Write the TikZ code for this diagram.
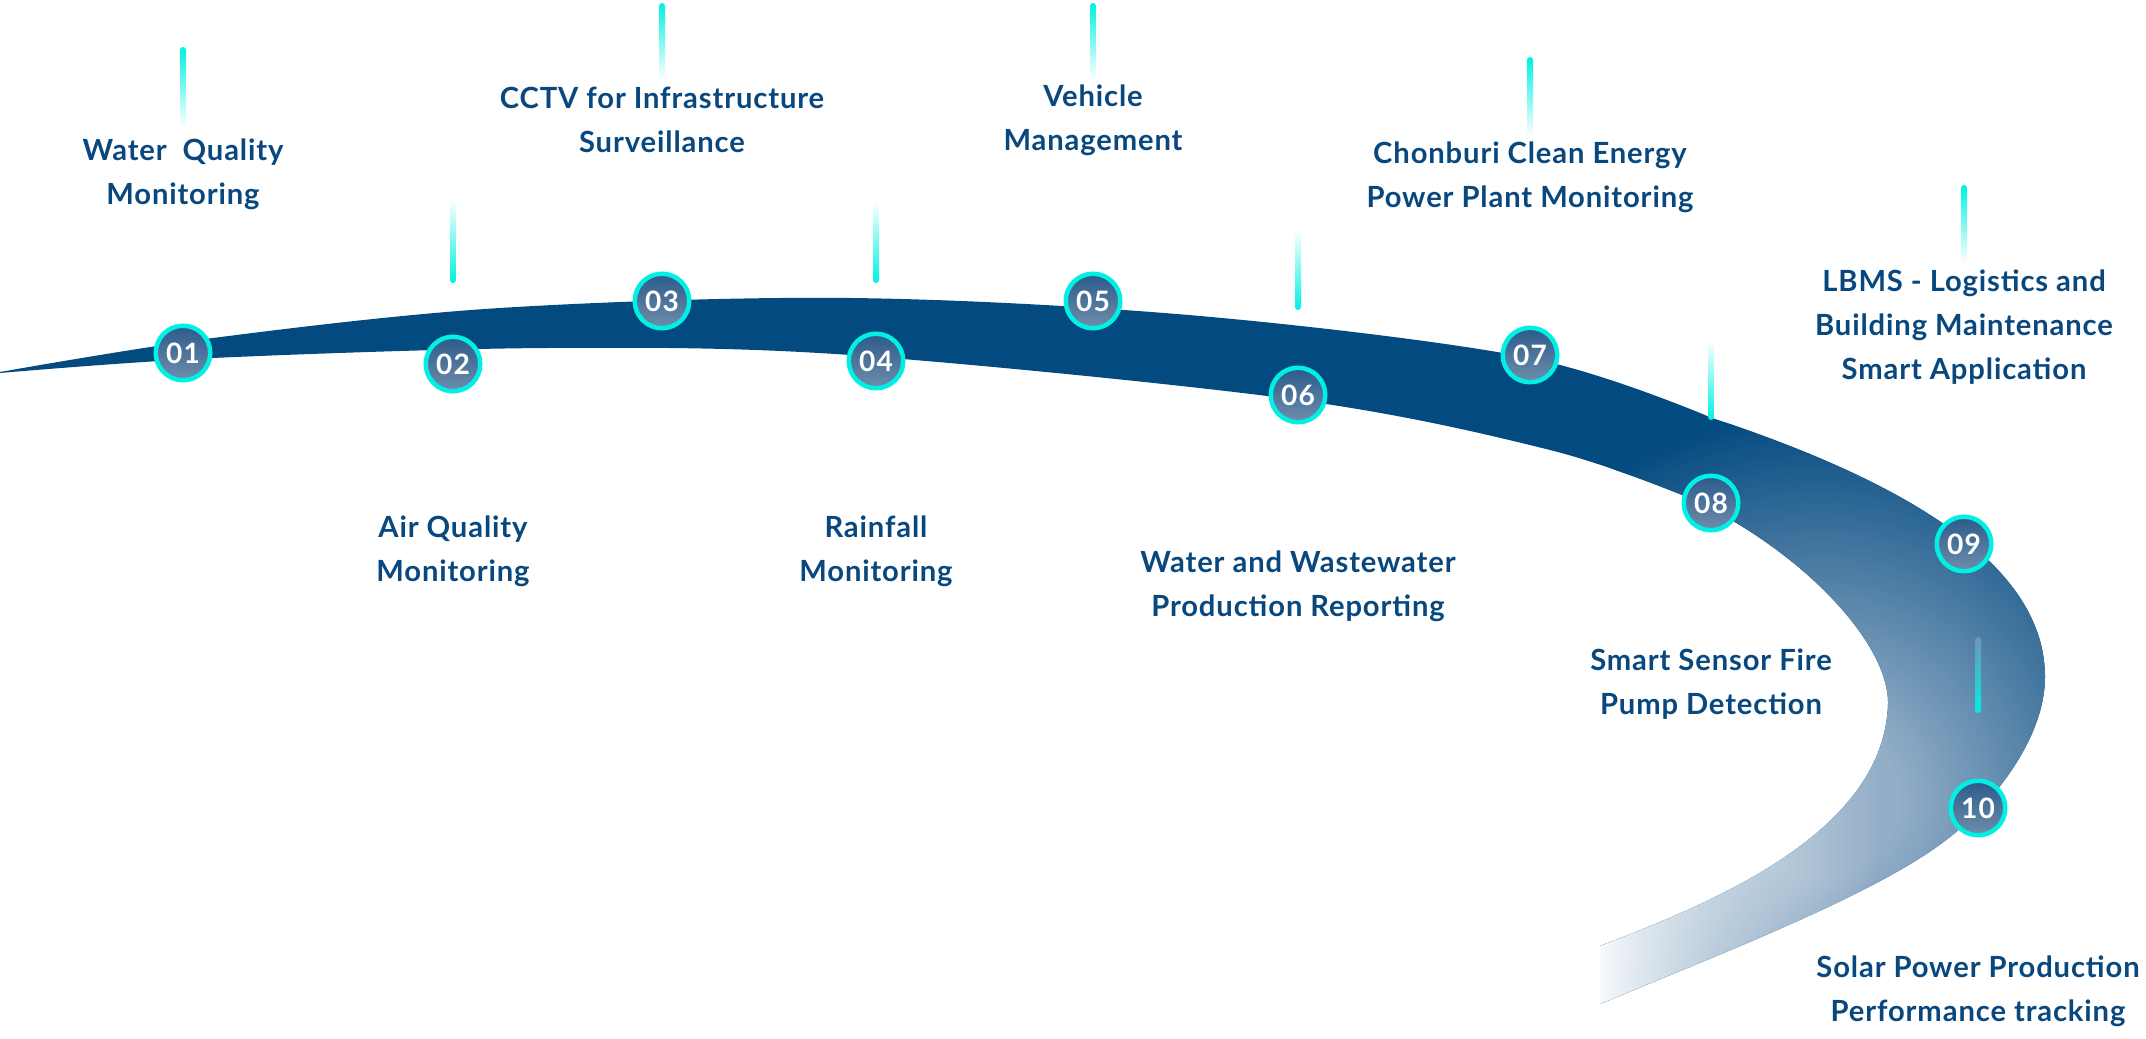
\documentclass[tikz,border=0pt]{standalone}
\usepackage{fontspec}
\usepackage{xcolor}
\usepackage{tikz}
\usetikzlibrary{fadings}
\newfontfamily\itemfont{Lato}[LetterSpace=3]
\newfontfamily\numfont{Lato}[LetterSpace=4]

\definecolor{ribbonblue}{RGB}{3,74,128}
\definecolor{textblue}{RGB}{8,72,126}
\definecolor{tickcyan}{RGB}{0,240,228}
\definecolor{glowlight}{RGB}{147,174,199}
\definecolor{dotdark}{RGB}{44,90,138}
\definecolor{dotlight}{RGB}{110,142,172}
\definecolor{bendblue}{RGB}{112,148,182}

% light patch in the bend of the ribbon
\pgfdeclareradialshading{bendglow}{\pgfpointorigin}{%
  color(0bp)=(glowlight); color(5bp)=(glowlight);
  color(25bp)=(ribbonblue); color(50bp)=(ribbonblue)}

% outline of the ribbon, outer edge first, then the inner edge back to the tip
\newcommand{\ribbonoutline}{%
  plot[smooth, tension=0.55] coordinates {(0,372) (213,338) (500,308) (850,298)
    (1200,316) (1530,358) (1712,418)}
  .. controls (1912,484) and (2045,567) .. (2045,677)
  .. controls (2045,737) and (1995,801) .. (1950,837)
  .. controls (1880,893) and (1720,954) .. (1600,1004)
  -- (1600,946)
  .. controls (1720,900) and (1885,830) .. (1888,703)
  .. controls (1888,640) and (1797,547) .. (1687,497)
  -- plot[smooth, tension=0.55] coordinates {(1687,497) (1550,450) (1298,400)
    (850,355) (550,348) (213,358) (0,373)}
  -- cycle}

\tikzset{milestone/.style={ % Numbered circles on the ribbon
           circle, minimum size=5.45mm, inner sep=0pt,
           draw=tickcyan, line width=0.45mm,
           top color=dotdark, bottom color=dotlight,
           text=white, font=\numfont\bfseries\fontsize{8pt}{8pt}\selectfont},
         itemtext/.style={ % Captions of the items
           align=center, text=textblue,
           font=\itemfont\bfseries\fontsize{8.3pt}{12.5pt}\selectfont},
         tickup/.style={ % Cyan at the top, fading downwards
           rounded corners=0.3mm, top color=tickcyan, bottom color=white},
         tickdown/.style={ % Cyan at the bottom, fading upwards
           rounded corners=0.3mm, top color=white, bottom color=tickcyan},
         tickinside/.style={ % same, on the ribbon itself
           rounded corners=0.3mm, top color=bendblue, bottom color=tickcyan}}

\begin{document}
\begin{tikzpicture}[x=0.1mm, y=-0.1mm]
      \useasboundingbox (0,0) rectangle (2146,1039);

      % the ribbon
      \begin{scope}
        \clip \ribbonoutline;
        \fill[ribbonblue] (0,0) rectangle (2146,1039);
        \shade[shading=bendglow] (1820,800) circle (390);
        \fill[white, path fading=east] (1590,700) rectangle (1880,1039);
      \end{scope}

      \node[milestone] (c01) at (183,353) {01};
      \node[milestone] (c02) at (453,364) {02};
      \node[milestone] (c03) at (662,301) {03};
      \node[milestone] (c04) at (876,361) {04};
      \node[milestone] (c05) at (1093,301) {05};
      \node[milestone] (c06) at (1298,395) {06};
      \node[milestone] (c07) at (1530,355) {07};
      \node[milestone] (c08) at (1711,503) {08};
      \node[milestone] (c09) at (1964,544) {09};
      \node[milestone] (c10) at (1978,808) {10};

      \path[tickup] (c01 |- 0,47) ++(-3,0) rectangle ++(6,81);
      \path[tickdown] (c02 |- 0,198) ++(-3,0) rectangle ++(6,85);
      \path[tickup] (c03 |- 0,3) ++(-3,0) rectangle ++(6,77);
      \path[tickdown] (c04 |- 0,201) ++(-3,0) rectangle ++(6,82);
      \path[tickup] (c05 |- 0,3) ++(-3,0) rectangle ++(6,77);
      \path[tickdown] (c06 |- 0,230) ++(-3,0) rectangle ++(6,80);
      \path[tickup] (c07 |- 0,57) ++(-3,0) rectangle ++(6,80);
      \path[tickdown] (c08 |- 0,340) ++(-3,0) rectangle ++(6,80);
      \path[tickup] (c09 |- 0,185) ++(-3,0) rectangle ++(6,78);
      \path[tickinside] (c10 |- 0,637) ++(-3,0) rectangle ++(6,76);

      \node[itemtext] (t01) at (183,174) {Water~~Quality\\Monitoring};
      \node[itemtext] (t02) at (453,551) {Air Quality\\Monitoring};
      \node[itemtext] (t03) at (662,120) {CCTV for Infrastructure\\Surveillance};
      \node[itemtext] (t04) at (876,551) {Rainfall\\Monitoring};
      \node[itemtext] (t05) at (1093,120) {Vehicle\\Management};
      \node[itemtext] (t06) at (1298,586) {Water and Wastewater\\Production Reporting};
      \node[itemtext] (t07) at (1530,177) {Chonburi Clean Energy\\Power Plant Monitoring};
      \node[itemtext] (t08) at (1711,684) {Smart Sensor Fire\\Pump Detection};
      \node[itemtext] (t09) at (1964,327) {LBMS - Logistics and\\Building Maintenance\\Smart Application};
      \node[itemtext] (t10) at (1978,991) {Solar Power Production\\Performance tracking};

    \end{tikzpicture}
\end{document}
